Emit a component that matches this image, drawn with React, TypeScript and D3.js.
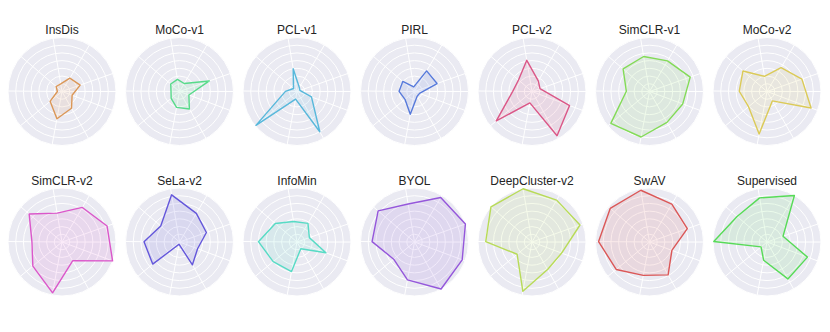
import React from 'react';
import * as d3 from 'd3';

// nine evaluation axes (not labelled in the figure)
const axes = ['A1', 'A2', 'A3', 'A4', 'A5', 'A6', 'A7', 'A8', 'A9'];

const methods = [
  'InsDis', 'MoCo-v1', 'PCL-v1', 'PIRL', 'PCL-v2', 'SimCLR-v1', 'MoCo-v2',
  'SimCLR-v2', 'SeLa-v2', 'InfoMin', 'BYOL', 'DeepCluster-v2', 'SwAV', 'Supervised',
];

const insDis = [10, 20, 25, 14, 25, 36, 20, 6, 10];
const mocoV1 = [16, 12, 41, 13, 26, 21, 14, 11, 15];
const pclV1 = [30, 6, 4, 20, 60, 10, 69, 15, 6];
const pirl = [6, 31, 31, 7, 7, 30, 16, 20, 20];
const pclV2 = [41, 16, 11, 52, 66, 15, 60, 25, 23];
const simclrV1 = [46, 46, 56, 46, 46, 60, 65, 30, 45];
const mocoV2 = [20, 36, 48, 61, 14, 56, 31, 36, 41];
const simclrV2 = [38, 52, 62, 70, 28, 67, 49, 39, 56];
const selaV2 = [62, 43, 37, 25, 34, 3, 45, 46, 32];
const infoMin = [27, 28, 17, 40, 10, 39, 40, 50, 37];
const byol = [50, 67, 70, 66, 70, 50, 35, 55, 62];
const deepClusterV2 = [70, 63, 66, 41, 41, 65, 25, 60, 70];
const swav = [68, 57, 52, 31, 49, 44, 56, 66, 67];
const supervised = [58, 70, 22, 56, 55, 24, 10, 69, 51];

const series = [
  insDis, mocoV1, pclV1, pirl, pclV2, simclrV1, mocoV2,
  simclrV2, selaV2, infoMin, byol, deepClusterV2, swav, supervised,
];

// hue of each method's colour (hls, s=.65, l=.6)
const hues = [29, 143, 196, 224, 338, 100, 52, 308, 246, 170, 268, 76, 0, 120];

const ringTicks = [10, 20, 30, 40, 50, 60];
const maxValue = 70;

const W = 830;
const H = 332;
const R = 54;

function Radar({ name, values, cx, cy, color }) {
  const r = d3.scaleLinear().domain([0, maxValue]).range([0, R]);
  const angle = d3.scalePoint().domain(axes).range([0, 2 * Math.PI * (axes.length - 1) / axes.length]);
  const offset = -9.5 * Math.PI / 180;
  const a = (k) => angle(k) + offset;

  const path = d3.lineRadial()
    .angle((d, i) => a(axes[i]))
    .radius((d) => r(d))
    .curve(d3.curveLinearClosed);

  return (
    <g transform={`translate(${cx},${cy})`}>
      <text y={-60.5} textAnchor="middle" dominantBaseline="middle"
        fontFamily="'Liberation Sans', Arial, sans-serif" fontSize={12} fill="rgb(36,36,36)">
        {name}
      </text>
      <circle r={R} fill="#eaeaf2" stroke="white" strokeWidth={1} />
      {ringTicks.map((t) => (
        <circle key={t} r={r(t)} fill="none" stroke="white" strokeWidth={1} />
      ))}
      {axes.map((k) => (
        <line key={k} x1={0} y1={0}
          x2={R * Math.sin(a(k))} y2={-R * Math.cos(a(k))}
          stroke="white" strokeWidth={1} />
      ))}
      <line x1={0} y1={0} x2={R} y2={0} stroke="white" strokeWidth={1} />
      <path d={path(values)} fill={color} fillOpacity={0.12} stroke={color} strokeWidth={1.4} strokeLinejoin="round" />
    </g>
  );
}

export default function App() {
  const x = d3.scaleLinear().domain([0, 6]).range([62, 767]);
  const y = d3.scaleLinear().domain([0, 1]).range([91.5, 242]);
  const palette = (h) => d3.hsl(h, 0.65, 0.6).formatHex();

  return (
    <svg width={W} height={H} style={{ position: 'absolute', left: 0, top: 0, background: 'white' }}>
      {methods.map((m, i) => (
        <Radar key={m} name={m} values={series[i]}
          cx={x(i % 7)} cy={y(Math.floor(i / 7))}
          color={palette(hues[i])} />
      ))}
    </svg>
  );
}
